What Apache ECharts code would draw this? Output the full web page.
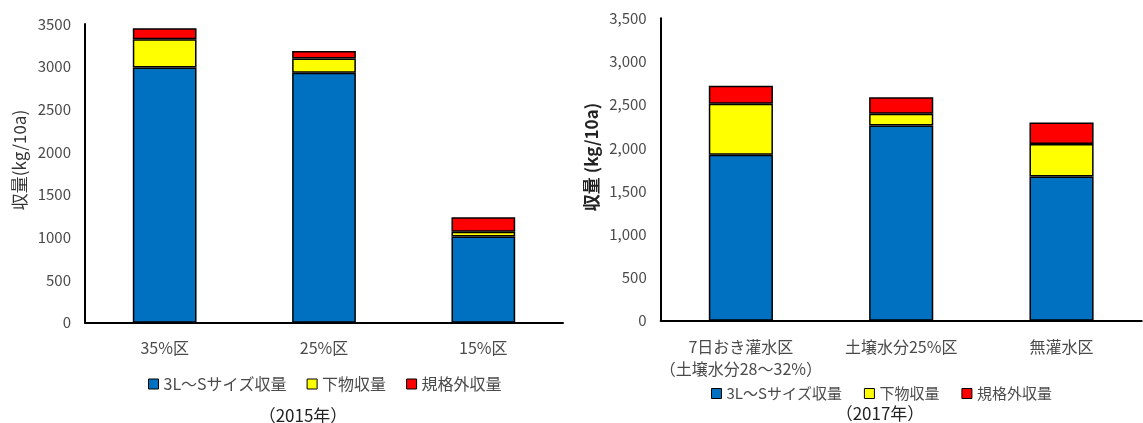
<!DOCTYPE html>
<html>
<head>
<meta charset="utf-8">
<script src="https://cdn.jsdelivr.net/npm/echarts@6/dist/echarts.min.js"></script>
<style>
html,body{margin:0;padding:0;background:#fff;}
#c{width:1143px;height:423px;}
</style>
</head>
<body>
<div id="c"></div>
<script>
// ---- data ----
const seriesNames = ['3L～Sサイズ収量', '下物収量', '規格外収量'];
const categories2015 = ['35%区', '25%区', '15%区'];
const size2015 = [2990, 2930, 1010];
const lower2015 = [330, 165, 55];
const offgrade2015 = [130, 90, 172];

const categories2017 = ['7日おき灌水区\n（土壌水分28～32%）', '土壌水分25%区', '無灌水区'];
const size2017 = [1920, 2260, 1670];
const lower2017 = [590, 135, 375];
const offgrade2017 = [210, 190, 250];

const yTicksMax = 3500;
const yTickStep = 500;

// ---- styles ----
const FONT = '"Noto Sans CJK JP", "Noto Sans", sans-serif';
const colors = ['#0070C0', '#FFFF00', '#FF0000'];
const textColor = '#4a4a4a';

const chart = echarts.init(document.getElementById('c'), null, {renderer: 'canvas'});

function makeSeries(gridIdx, arrays) {
  return arrays.map((arr, i) => ({
    name: seriesNames[i],
    type: 'bar',
    stack: 'total' + gridIdx,
    xAxisIndex: gridIdx,
    yAxisIndex: gridIdx,
    barWidth: '40%',
    data: arr,
    itemStyle: {color: colors[i], borderColor: '#000', borderWidth: 1.5},
    emphasis: {disabled: true}
  }));
}

const xAxisCommon = {
  type: 'category',
  axisLine: {lineStyle: {color: '#000', width: 2}},
  axisTick: {show: false},
  splitLine: {show: false}
};
const yAxisCommon = {
  type: 'value',
  min: 0,
  max: yTicksMax,
  interval: yTickStep,
  axisLine: {show: true, lineStyle: {color: '#000', width: 2}},
  axisTick: {show: false},
  splitLine: {show: false}
};

const option = {
  animation: false,
  textStyle: {fontFamily: FONT},
  grid: [
    {left: 85, top: 24, width: 478, height: 298.7, containLabel: false, outerBoundsMode: 'none'},
    {left: 660.7, top: 18.3, width: 481, height: 302.4, containLabel: false, outerBoundsMode: 'none'}
  ],
  xAxis: [
    Object.assign({}, xAxisCommon, {
      gridIndex: 0, data: categories2015,
      axisLabel: {color: textColor, fontSize: 16, fontFamily: FONT, margin: 17, interval: 0}
    }),
    Object.assign({}, xAxisCommon, {
      gridIndex: 1, data: categories2017,
      axisLabel: {color: textColor, fontSize: 16, fontFamily: FONT, margin: 15, lineHeight: 22, interval: 0}
    })
  ],
  yAxis: [
    Object.assign({}, yAxisCommon, {
      gridIndex: 0,
      axisLabel: {color: textColor, fontSize: 15, fontFamily: FONT, margin: 14,
                  formatter: v => String(v)}
    }),
    Object.assign({}, yAxisCommon, {
      gridIndex: 1,
      axisLabel: {
        color: textColor, fontSize: 15, fontFamily: FONT, margin: 14,
        formatter: v => v.toLocaleString('en-US')
      }
    })
  ],
  legend: [
    {
      data: seriesNames, left: 143, top: 371, icon: 'rect', itemWidth: 10, itemHeight: 10,
      itemGap: 20, itemStyle: {borderColor: '#000', borderWidth: 1},
      textStyle: {color: textColor, fontSize: 16, fontFamily: FONT}, selectedMode: false
    },
    {
      data: seriesNames, left: 706, top: 381, icon: 'rect', itemWidth: 10, itemHeight: 10,
      itemGap: 22, itemStyle: {borderColor: '#000', borderWidth: 1},
      textStyle: {color: textColor, fontSize: 15, fontFamily: FONT}, selectedMode: false
    }
  ],
  title: [
    {text: '（2015年）', left: 298, top: 402, textAlign: 'center',
     textStyle: {color: '#222', fontSize: 17, fontWeight: 'normal', fontFamily: FONT}},
    {text: '（2017年）', left: 875, top: 400, textAlign: 'center',
     textStyle: {color: '#222', fontSize: 17, fontWeight: 'normal', fontFamily: FONT}}
  ],
  graphic: [
    {type: 'text', x: 20, y: 160, rotation: Math.PI / 2,
     style: {text: '収量(kg/10a)', align: 'center', verticalAlign: 'middle',
             fill: '#333', font: '17px ' + FONT}},
    {type: 'text', x: 592, y: 157, rotation: Math.PI / 2,
     style: {text: '収量 (kg/10a)', align: 'center', verticalAlign: 'middle',
             fill: '#222', font: 'bold 17px ' + FONT}}
  ],
  series: [].concat(
    makeSeries(0, [size2015, lower2015, offgrade2015]),
    makeSeries(1, [size2017, lower2017, offgrade2017])
  )
};
chart.setOption(option);
</script>
</body>
</html>
